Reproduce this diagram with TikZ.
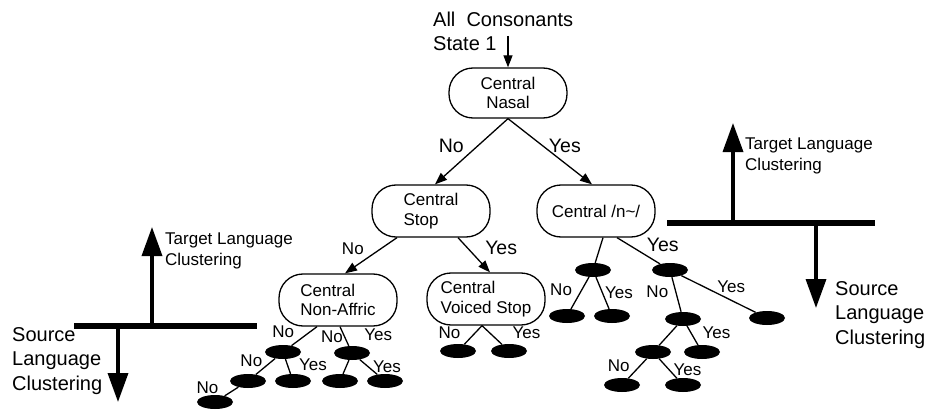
\documentclass[tikz,border=0pt]{standalone}
\usepackage{fontspec}
\setmainfont{Liberation Sans}
\usetikzlibrary{arrows.meta,positioning,shapes.geometric,calc}
\definecolor{ink}{HTML}{000000}
\tikzset{
  >={Triangle[length=12pt,width=9pt]},
  every node/.style={text=ink,inner sep=1pt},
  query/.style={draw=ink,line width=1.3pt,rounded corners=24pt,minimum width=118pt,minimum height=52pt,align=left,font=\fontsize{17pt}{19.5pt}\selectfont},
  leaf/.style={ellipse,fill=ink,minimum width=36pt,minimum height=14pt,inner sep=0pt},
  arrow/.style={->,line width=1.3pt,draw=ink},
  branch/.style={line width=1.3pt,draw=ink},
  tag/.style={font=\fontsize{17pt}{19pt}\selectfont,inner sep=1pt},
  bigtag/.style={font=\fontsize{19.5pt}{22pt}\selectfont,inner sep=1pt},
  caption/.style={align=left,inner sep=0pt,font=\fontsize{20pt}{24.5pt}\selectfont},
  axisnote/.style={align=left,inner sep=0pt,font=\fontsize{17pt}{21pt}\selectfont},
  bar/.style={fill=ink,minimum height=6.5pt,inner sep=0pt},
  bigarrow/.style={-{Triangle[length=29pt,width=20pt]},line width=3.5pt,draw=ink},
}

\begin{document}
\begin{tikzpicture}[x=1pt,y=-1pt]
\useasboundingbox (0,0) rectangle (927,412);

% entry point
\node[caption,anchor=west] (start) at (433,31.4) {All\ \ Consonants\\State 1};
\coordinate (entry) at (508,36);

% question nodes
\node[query,align=center,minimum height=50pt] (nasal) at (508,93) {Central\\Nasal};
\node[query] (stop) at (431,211) {Central\\Stop};
\node[query] (ntil) at (596,211) {Central /n\textasciitilde/};
\node[query] (affric) at (338,300) {Central\\Non-Affric};
\node[query] (voiced) at (486,299) {Central\\Voiced Stop};

% leaves
\node[leaf] (a1) at (283,352) {};
\node[leaf] (a2) at (352,353) {};
\node[leaf] (a11) at (248,381) {};
\node[leaf] (a12) at (293,381) {};
\node[leaf] (a111) at (215,402) {};
\node[leaf] (a21) at (340,381) {};
\node[leaf] (a22) at (385,381) {};
\node[leaf] (v1) at (458,351) {};
\node[leaf] (v2) at (509,351) {};
\node[leaf] (n1) at (593,270) {};
\node[leaf] (n2) at (670,270) {};
\node[leaf] (n11) at (567,316) {};
\node[leaf] (n12) at (612,316) {};
\node[leaf] (n21) at (683,319) {};
\node[leaf] (n22) at (767,318) {};
\node[leaf] (n211) at (653,352) {};
\node[leaf] (n212) at (702,352) {};
\node[leaf] (n2111) at (622,385) {};
\node[leaf] (n2112) at (683,385) {};

% tree edges
\draw[arrow] (entry) -- (nasal.north);
\draw[arrow] (nasal.south) -- node[bigtag,pos=.42,left=12pt]{No} ([xshift=4pt]stop.north);
\draw[arrow] (nasal.south) -- node[bigtag,pos=.42,right=4pt]{Yes} ([xshift=-4pt]ntil.north);
\draw[arrow] ([xshift=-34pt]stop.south) -- node[tag,pos=.32,left=15pt]{No} ([xshift=7pt]affric.north);
\draw[arrow] ([xshift=27pt]stop.south) -- node[bigtag,pos=.3,right=16pt]{Yes} ([xshift=4pt]voiced.north);

\draw[branch] ([xshift=-21pt]affric.south) -- node[tag,pos=.25,left=15pt]{No} (a1);
\draw[branch] ([xshift=2pt]affric.south) -- node[tag,pos=.5,left=0pt]{No} node[tag,pos=.42,right=19pt]{Yes} (a2);
\draw[branch] (a1) -- node[tag,pos=.17,left=8pt]{No} (a11);
\draw[branch] (a1) -- node[tag,pos=.4,right=10pt]{Yes} (a12);
\draw[branch] (a11) -- node[tag,pos=.1,left=17pt]{No} (a111);
\draw[branch] (a2) -- (a21);
\draw[branch] (a2) -- node[tag,pos=.5,right=3pt]{Yes} (a22);
\draw[branch] ([xshift=-4pt]voiced.south) -- node[tag,pos=.4,left=13pt]{No} (v1);
\draw[branch] ([xshift=-4pt]voiced.south) -- node[tag,pos=.4,right=21pt]{Yes} (v2);

\draw[branch] ([xshift=7pt]ntil.south) -- (n1);
\draw[branch] ([xshift=21pt]ntil.south) -- node[bigtag,pos=.26,right=17pt]{Yes} (n2);
\draw[branch] (n1) -- node[tag,pos=.41,left=8pt]{No} (n11);
\draw[branch] (n1) -- node[tag,pos=.5,right=1pt]{Yes} (n12);
\draw[branch] (n2) -- node[tag,pos=.43,left=6pt]{No} (n21);
\draw[branch] (n2) -- node[tag,pos=.67,above=6pt]{Yes} (n22);
\draw[branch] (n21) -- (n211);
\draw[branch] (n21) -- node[tag,pos=.35,right=10pt]{Yes} (n212);
\draw[branch] (n211) -- node[tag,pos=.35,left=9pt]{No} (n2111);
\draw[branch] (n211) -- node[tag,pos=.55,right=3pt]{Yes} (n2112);

% clustering axes, left
\node[bar,minimum width=183pt] (lbar) at (165.5,326) {};
\coordinate (lup) at (152,227);
\coordinate (ldown) at (118,402);
\draw[bigarrow] (lbar.center -| lup) -- (lup);
\draw[bigarrow] (lbar.center -| ldown) -- (ldown);
\node[axisnote,anchor=west] (ltarget) at (165,251) {Target Language\\Clustering};
\node[caption,anchor=west] (lsource) at (12,361) {Source\\Language\\Clustering};

% clustering axes, right
\node[bar,minimum width=208pt] (rbar) at (771,223) {};
\coordinate (rup) at (733,123);
\coordinate (rdown) at (816,308);
\draw[bigarrow] (rbar.center -| rup) -- (rup);
\draw[bigarrow] (rbar.center -| rdown) -- (rdown);
\node[axisnote,anchor=west] (rtarget) at (745,156) {Target Language\\Clustering};
\node[caption,anchor=west] (rsource) at (835,315) {Source\\Language\\Clustering};

\end{tikzpicture}
\end{document}
